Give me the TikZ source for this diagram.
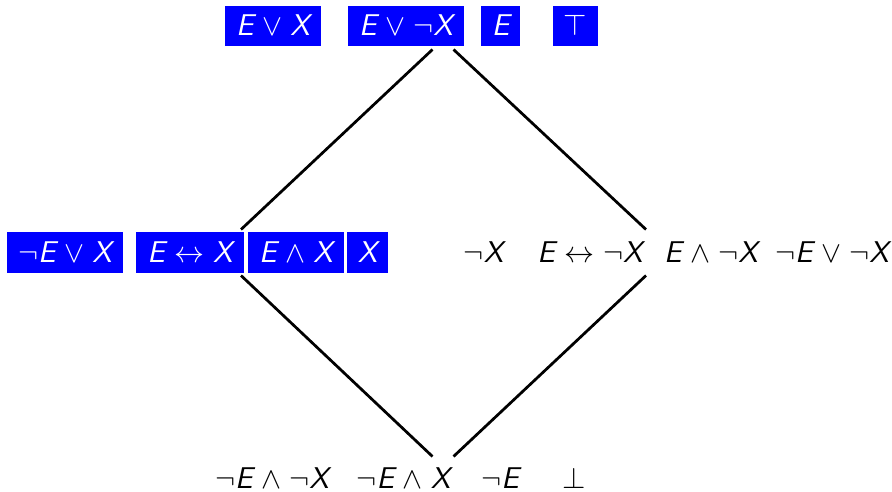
\documentclass[tikz,border=0pt]{standalone}
\usepackage{amsmath,amssymb}
\usetikzlibrary{positioning}
\definecolor{cSel}{HTML}{0000FF}
\newcommand{\vE}{\textsf{\slshape E}}
\newcommand{\vX}{\textsf{\slshape X}}
\medmuskip=5mu
\thickmuskip=5.5mu
\tikzset{
  frm/.style ={inner xsep=4.4pt,inner ysep=0pt,text height=9.5pt,text depth=1.5pt,
               minimum height=16pt,font=\fontsize{12}{14}\selectfont},
  sel/.style ={frm,fill=cSel,text=white},
  low/.style ={frm,minimum height=0pt,text depth=0pt,anchor=base},
  hub/.style ={inner sep=0pt,draw=none},
  lnk/.style ={draw=black,line width=1.1pt},
}

\begin{document}
\begin{tikzpicture}[x=0.4pt, y=-0.4pt]
\useasboundingbox (0,0) rectangle (892,492);

% ---- top level -----------------------------------------------------------
\node[sel] (nEvX)  at (273,26)   {$\vE\vee\vX$};
\node[sel] (nEvnX) at (406,26)   {$\vE\vee\neg\vX$};
\node[sel] (nE)    at (500.5,26) {$\vE$};
\node[sel] (nTop)  at (575.5,26) {$\top$};

% ---- middle level, left (selected) and right -----------------------------
\node[sel] (nnEvX) at (65,252.5)  {$\neg\vE\vee\vX$};
\node[sel] (nEiX)  at (190,252.5) {$\vE\leftrightarrow\vX$};
\node[sel] (nEaX)  at (296,252.5) {$\vE\wedge\vX$};
\node[sel] (nX)    at (367.5,252.5) {$\vX$};
\node[frm] (nnX)   at (483.5,252.5) {$\neg\vX$};
\node[frm] (nEinX) at (590,252.5)   {$\vE\leftrightarrow\neg\vX$};
\node[frm] (nEanX) at (711,252.5)   {$\vE\wedge\neg\vX$};
\node[frm] (nnEvnX) at (832,252.5)  {$\neg\vE\vee\neg\vX$};

% ---- bottom level (placed on the baseline) -------------------------------
\node[low] (nnEanX) at (272,488)   {$\neg\vE\wedge\neg\vX$};
\node[low] (nnEaX)  at (403.5,488) {$\neg\vE\wedge\vX$};
\node[low] (nnE)    at (500,488)   {$\neg\vE$};
\node[low] (nBot)   at (574,488)   {$\bot$};

% ---- diamond -------------------------------------------------------------
\node[hub,minimum width=8pt,minimum height=7.2pt] (vtop)   at (443,40)    {};
\node[hub,minimum height=18pt]                    (vleft)  at (241,252.5) {};
\node[hub,minimum height=18pt]                    (vright) at (646,252.5) {};
\node[hub,minimum width=8pt,minimum height=7.2pt] (vbot)   at (443,466)   {};

\draw[lnk] (vtop.south west) -- (vleft.north);
\draw[lnk] (vtop.south east) -- (vright.north);
\draw[lnk] (vleft.south)     -- (vbot.north west);
\draw[lnk] (vright.south)    -- (vbot.north east);
\end{tikzpicture}
\end{document}
